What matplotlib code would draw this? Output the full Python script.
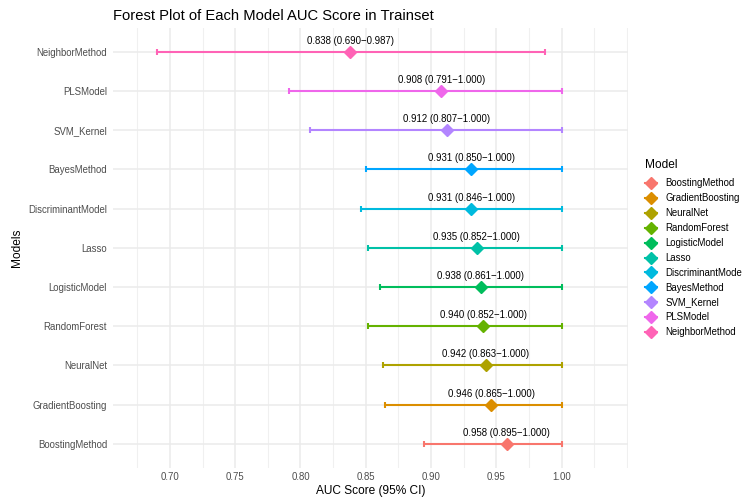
import matplotlib
matplotlib.use("Agg")
import matplotlib.pyplot as plt
from matplotlib.lines import Line2D
import numpy as np

plt.rcParams["font.family"] = ["Liberation Sans", "DejaVu Sans"]

# Models listed bottom-to-top on the y axis (also the legend order)
models = ["BoostingMethod", "GradientBoosting", "NeuralNet", "RandomForest",
          "LogisticModel", "Lasso", "DiscriminantModel", "BayesMethod",
          "SVM_Kernel", "PLSModel", "NeighborMethod"]
auc = [0.958, 0.946, 0.942, 0.940, 0.938, 0.935, 0.931, 0.931, 0.912, 0.908, 0.838]
ci_low = [0.895, 0.865, 0.863, 0.852, 0.861, 0.852, 0.846, 0.850, 0.807, 0.791, 0.690]
ci_high = [1.000, 1.000, 1.000, 1.000, 1.000, 1.000, 1.000, 1.000, 1.000, 1.000, 0.987]
colors = ["#F8766D", "#DB8E00", "#AEA200", "#64B200", "#00BD5C", "#00C1A7",
          "#00BADE", "#00A6FF", "#B385FF", "#EF67EB", "#FF63B6"]
x_ticks = [0.70, 0.75, 0.80, 0.85, 0.90, 0.95, 1.00]

W, H = 742, 497
fig = plt.figure(figsize=(W / 100, H / 100), dpi=100)
ax = fig.add_axes([113 / W, 1 - 467.5 / H, (627.5 - 113) / W, (467.5 - 28) / H])

xmin, xmax = 0.6564, 1.0505
ax.set_xlim(xmin, xmax)
ax.set_ylim(-0.6, len(models) - 0.4)

# grid: major and minor lines, theme_minimal style
for xv in x_ticks:
    ax.axvline(xv, color="#EBEBEB", lw=1.1, zorder=0)
minor = np.arange(0.65, 1.051, 0.05) + 0.025
for xv in list(minor) + [1.05]:
    if xmin <= xv <= xmax:
        ax.axvline(xv, color="#F0F0F0", lw=0.8, zorder=0)
for i in range(len(models)):
    ax.axhline(i, color="#EBEBEB", lw=1.1, zorder=0)

handles = []
for i, (m, a, lo, hi, c) in enumerate(zip(models, auc, ci_low, ci_high, colors)):
    ax.errorbar(a, i, xerr=[[a - lo], [hi - a]], fmt="none", ecolor=c,
                elinewidth=1.5, capsize=2, capthick=1.5, zorder=2)
    ax.plot(a, i, marker="D", color=c, markersize=6.2, linestyle="none", zorder=3)
    ax.text(a, i + 0.28, f"{a:.3f} ({lo:.3f}\u2212{hi:.3f})", ha="center",
            va="center", fontsize=6.9, color="black", zorder=4)
    handles.append(Line2D([0], [0], color=c, lw=1.5, marker="D", markersize=6.2, label=m))

ax.set_xticks(x_ticks)
ax.set_xticklabels([f"{v:.2f}" for v in x_ticks])
ax.set_yticks(range(len(models)))
ax.set_yticklabels(models)
ax.tick_params(axis="both", length=0, labelsize=6.9, labelcolor="#4D4D4D")
ax.tick_params(axis="y", pad=4.3)
ax.tick_params(axis="x", pad=3.0)
for s in ax.spines.values():
    s.set_visible(False)

ax.set_xlabel("AUC Score (95% CI)", fontsize=8.6, labelpad=2.5)
ax.set_ylabel("Models", fontsize=8.6, labelpad=4)
ax.set_title("Forest Plot of Each Model AUC Score in Trainset", fontsize=10.6,
              loc="left", pad=6)

leg = fig.legend(handles=handles, title="Model", loc="upper left",
                 bbox_to_anchor=(641 / W, 1 - 155 / H), frameon=False,
                 fontsize=6.9, title_fontsize=8.6, handlelength=1.3,
                 handletextpad=0.85, labelspacing=0.51, borderaxespad=0)
leg._legend_box.align = "left"
leg._legend_box.sep = 5.5

fig.savefig("out.png", dpi=100)
